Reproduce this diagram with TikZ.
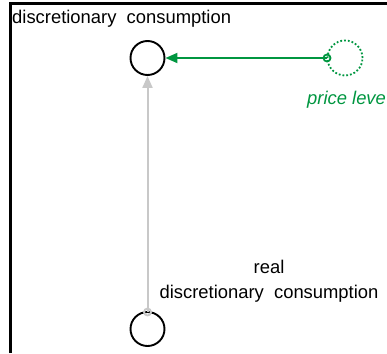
\documentclass[tikz,border=0pt]{standalone}
\usepackage{fontspec}
\setmainfont{Liberation Sans}
\usetikzlibrary{arrows.meta}
\definecolor{flowgreen}{RGB}{0,150,64}
\definecolor{linkgray}{RGB}{200,200,200}
\tikzset{
  stock/.style={circle, draw=black, line width=1.9pt, minimum size=34pt, inner sep=0pt},
  ghost/.style={circle, draw=flowgreen, dotted, line width=1.8pt, minimum size=35pt, inner sep=0pt},
  label/.style={font=\fontsize{18.4}{25}\selectfont, align=center, inner sep=0pt},
}
\begin{document}
\begin{tikzpicture}[x=1pt, y=-1pt]
  \useasboundingbox (0,0) rectangle (387,353);
  % frame along top and left edges
  \draw[line width=3pt] (10,353) -- (10,4) -- (387,4);
  % variables
  \node[stock] (dc) at (147.5,58) {};
  \node[stock] (rdc) at (147.5,329) {};
  \node[ghost] (pl) at (345,58) {};
  \node[label, anchor=west] (dclab) at (12,19) {discretionary\ \ consumption};
  \node[label] (rdclab) at (269,281) {real\\discretionary\ \ consumption};
  \node[label, anchor=base west, text=flowgreen, font=\fontsize{18.4}{25}\selectfont\itshape] (pllab) at (307,104) {price leve};
  % link ends
  \coordinate (plend) at (327,58);
  \coordinate (rdcend) at (147.5,312);
  % links
  \draw[flowgreen, line width=1.9pt, -{Triangle[length=12pt,width=10pt]}] (plend) -- (dc.east);
  \draw[flowgreen, line width=1.8pt] (plend) circle (3.5pt);
  \draw[linkgray, line width=2pt, -{Triangle[length=12pt,width=10pt]}] (rdcend) -- (dc.south);
  \draw[linkgray, line width=1.8pt] (rdcend) circle (3.5pt);
\end{tikzpicture}
\end{document}
